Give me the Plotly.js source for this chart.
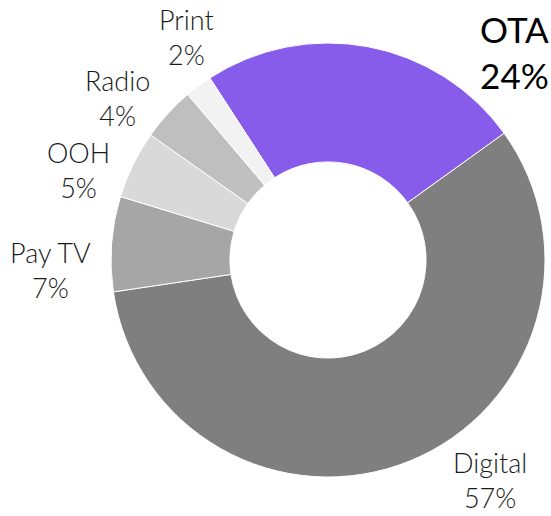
<!DOCTYPE html>
<html>
<head>
<meta charset="utf-8">
<script src="https://cdn.plot.ly/plotly-3.0.1.min.js"></script>
<style>html,body{margin:0;padding:0;background:#fff;}#chart{width:551px;height:516px;}</style>
</head>
<body>
<div id="chart"></div>
<script>
var categories = ["OTA", "Digital", "Pay TV", "OOH", "Radio", "Print"];
var shares = [24, 57, 7, 5, 4, 2];
var colors = ["#875CEB", "#7F7F7F", "#A6A6A6", "#D9D9D9", "#BFBFBF", "#F2F2F2"];

// label anchor positions in pixels (x, y from top) – layout only
var W = 551, H = 516;
var labelPos = {
  "OTA": [514, 52],
  "Digital": [490, 480],
  "Pay TV": [50, 270],
  "OOH": [78, 170],
  "Radio": [117, 98],
  "Print": [186, 37]
};

var annotations = categories.map(function (c, i) {
  var p = labelPos[c];
  var big = (c === "OTA");
  return {
    xref: "paper", yref: "paper",
    x: p[0] / W, y: 1 - p[1] / H,
    xanchor: "center", yanchor: "middle",
    showarrow: false,
    align: "center",
    borderpad: 0,
    text: c + "<br>" + shares[i] + "%",
    font: {
      family: "Lato, 'Open Sans', sans-serif",
      size: big ? 35 : 27,
      weight: big ? 400 : 300,
      color: big ? "#000000" : "#1a1a1a"
    }
  };
});

var trace = {
  type: "pie",
  labels: categories,
  values: shares,
  sort: false,
  direction: "clockwise",
  rotation: -33,
  hole: 0.452,
  marker: { colors: colors, line: { color: "#ffffff", width: 1 } },
  textinfo: "none",
  hoverinfo: "label+percent",
  showlegend: false,
  domain: { x: [111 / W, 545 / W], y: [(H - 477) / H, (H - 43) / H] }
};

var layout = {
  width: W, height: H,
  margin: { l: 0, r: 0, t: 0, b: 0 },
  paper_bgcolor: "#ffffff",
  plot_bgcolor: "#ffffff",
  showlegend: false,
  annotations: annotations
};

Plotly.newPlot("chart", [trace], layout, { displayModeBar: false, staticPlot: true });
</script>
</body>
</html>
